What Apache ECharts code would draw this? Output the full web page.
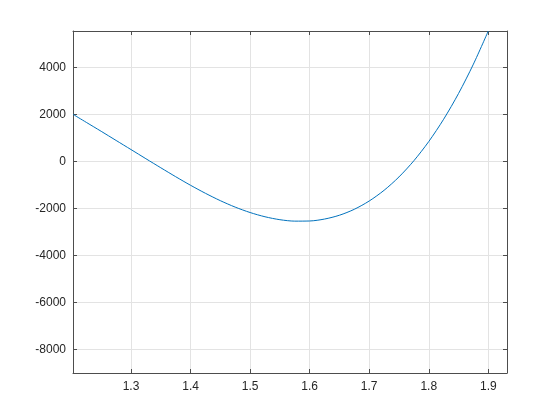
<!DOCTYPE html>
<html>
<head>
<meta charset="utf-8">
<script src="https://cdn.jsdelivr.net/npm/echarts@6/dist/echarts.min.js"></script>
<style>
html,body{margin:0;padding:0;background:#fff;}
#chart{width:560px;height:420px;}
</style>
</head>
<body>
<div id="chart"></div>
<script>
const xValues = [1.2026, 1.225, 1.25, 1.275, 1.30, 1.325, 1.35, 1.375, 1.40, 1.425, 1.45, 1.475, 1.50, 1.525,
  1.55, 1.575, 1.60, 1.625, 1.65, 1.675, 1.70, 1.725, 1.75, 1.775, 1.80, 1.825, 1.85, 1.875, 1.90];
const yValues = [2000, 1656, 1275, 887, 500, 110, -275, -655, -1020, -1362, -1675, -1950, -2180, -2360,
  -2485, -2546, -2540, -2458, -2295, -2042, -1690, -1234, -665, 24, 840, 1790, 2885, 4135, 5545];
const xTicks = [1.3, 1.4, 1.5, 1.6, 1.7, 1.8, 1.9];
const yTicks = [-8000, -6000, -4000, -2000, 0, 2000, 4000];
const xMin = 1.2026, xMax = 1.9314;
const yMin = -9009, yMax = 5545;

const seriesData = xValues.map((x, i) => [x, yValues[i]]);

const axisColor = '#4d4d4d';
const textColor = '#262626';
const gridColor = '#e3e3e3';

function xAxisDef(pos, showLabel) {
  return {
    type: 'value', position: pos, min: xMin, max: xMax,
    axisLine: {show: true, onZero: false, lineStyle: {color: axisColor, width: 1}},
    axisTick: {show: true, inside: true, length: 4, customValues: xTicks, lineStyle: {color: axisColor}},
    axisLabel: {show: showLabel, customValues: xTicks, margin: 8, color: textColor, fontSize: 12,
      fontFamily: 'Liberation Sans, Arial, sans-serif', formatter: v => v.toFixed(1)},
    splitLine: {show: showLabel, lineStyle: {color: gridColor, width: 1}}
  };
}
function yAxisDef(pos, showLabel) {
  return {
    type: 'value', position: pos, min: yMin, max: yMax,
    axisLine: {show: true, onZero: false, lineStyle: {color: axisColor, width: 1}},
    axisTick: {show: true, inside: true, length: 4, customValues: yTicks, lineStyle: {color: axisColor}},
    axisLabel: {show: showLabel, customValues: yTicks, margin: 7, color: textColor, fontSize: 12,
      fontFamily: 'Liberation Sans, Arial, sans-serif', formatter: v => String(v)},
    splitLine: {show: showLabel, lineStyle: {color: gridColor, width: 1}}
  };
}

const chart = echarts.init(document.getElementById('chart'), null, {renderer: 'canvas'});
chart.setOption({
  animation: false,
  backgroundColor: '#ffffff',
  grid: {left: 73, top: 31, width: 434, height: 342, containLabel: false},
  xAxis: [xAxisDef('bottom', true), xAxisDef('top', false)],
  yAxis: [yAxisDef('left', true), yAxisDef('right', false)],
  series: [{
    type: 'line', xAxisIndex: 0, yAxisIndex: 0,
    data: seriesData, smooth: 0.3, showSymbol: false,
    lineStyle: {color: '#0072BD', width: 1},
    clip: true
  }]
});
</script>
</body>
</html>
